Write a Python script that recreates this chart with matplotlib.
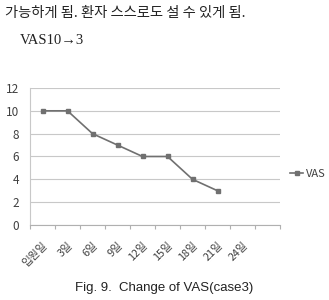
import numpy as np
import matplotlib
matplotlib.use("Agg")
import matplotlib.pyplot as plt

plt.rcParams['font.family'] = ['Noto Sans CJK KR', 'DejaVu Sans']

# data
days = ["입원일", "3일", "6일", "9일", "12일", "15일", "18일", "21일", "24일", ""]
vas = [10, 10, 8, 7, 6, 6, 4, 3]

fig = plt.figure(figsize=(3.29, 3.0), dpi=100)

# text above the chart (part of the page)
fig.text(0.015, 0.955, "가능하게 됨. 환자 스스로도 설 수 있게 됨.", fontsize=10.3,
         color="#222222", va="center", ha="left")
fig.text(0.06, 0.865, "VAS10→3", fontsize=10.5, color="#222222", va="center", ha="left",
         family=["Liberation Serif", "DejaVu Serif"])

ax = fig.add_axes([0.0912, 0.25, 0.76, 0.4567])
x = np.arange(len(vas)) + 0.5
ax.plot(x, vas, color="#707070", lw=1.2, marker="s", ms=2.2, label="VAS")

ax.set_xlim(0, len(days))
ax.set_ylim(0, 12)
ax.set_yticks(np.arange(0, 13, 2))
ax.set_xticks(np.arange(len(days) + 1), minor=False)
ax.set_xticklabels([])
ax.set_xticks(np.arange(len(days)) + 0.5, minor=True)
ax.set_xticklabels(days, minor=True, rotation=45, ha="right", va="top",
                   rotation_mode="anchor", fontsize=7.8, color="#404040")
ax.tick_params(axis="x", which="minor", length=0, pad=11)
ax.tick_params(axis="x", which="major", length=3, color="#b0b0b0", direction="out")
ax.tick_params(axis="y", length=0, labelsize=8.5, labelcolor="#404040", pad=8)

ax.grid(axis="y", color="#c8c8c8", lw=0.8)
ax.set_axisbelow(True)
for s in ["top", "right"]:
    ax.spines[s].set_visible(False)
ax.spines["left"].set_color("#c8c8c8")
ax.spines["bottom"].set_color("#b0b0b0")

ax.legend(loc="center left", bbox_to_anchor=(1.0, 0.37), frameon=False,
          fontsize=8, handlelength=1.2, handletextpad=0.2, labelcolor="#404040")

fig.text(0.5, 0.04, "Fig. 9.  Change of VAS(case3)", fontsize=9.5, ha="center",
         va="center", family=["Liberation Sans", "DejaVu Sans"], color="#222222")

fig.savefig("out.png", dpi=100)
